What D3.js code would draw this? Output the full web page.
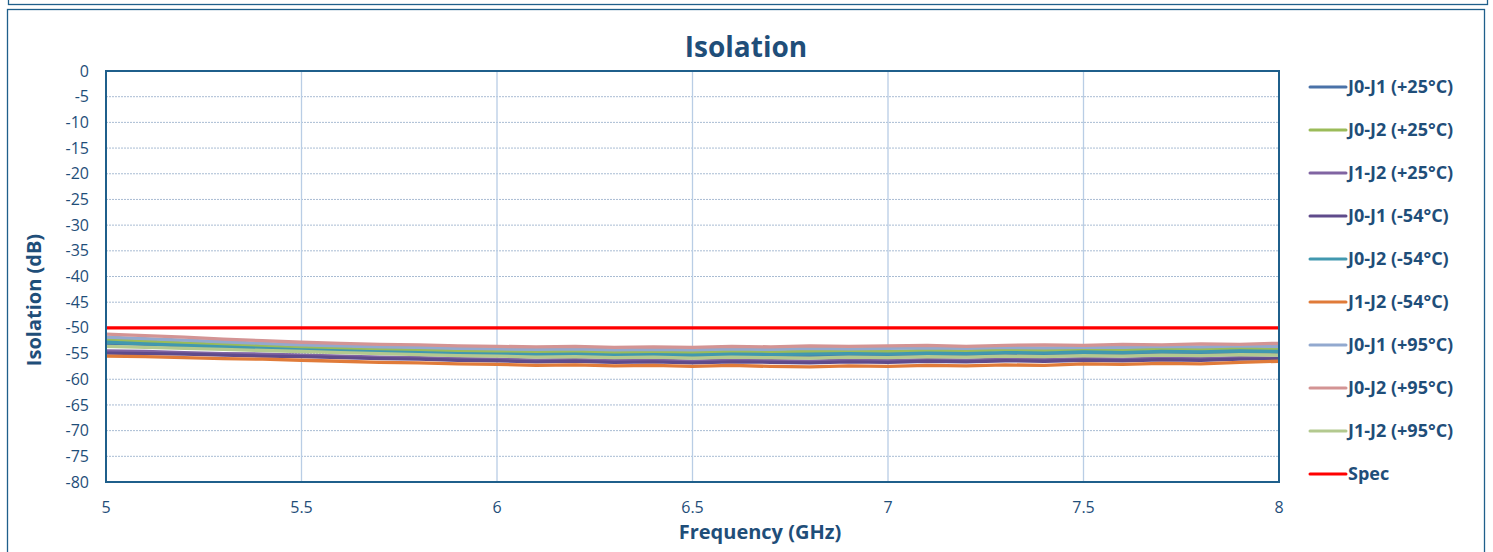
<!DOCTYPE html>
<html>
<head>
<meta charset="utf-8">
<script src="https://cdn.jsdelivr.net/npm/d3@7"></script>
<style>
  body { margin: 0; background: #fff; }
  svg { display: block; font-family: "Open Sans", "Lato", sans-serif; }
  .tick-label { fill: #1F4E79; font-size: 16px; }
  .axis-title { fill: #1F4E79; font-size: 20px; font-weight: bold; }
  .legend-label { fill: #1F4E79; font-size: 18px; font-weight: bold; }
</style>
</head>
<body>
<svg id="chart" width="1493" height="552"></svg>
<script>
// frequency grid (GHz)
const freqs = d3.range(0, 31).map((i) => +(5 + i * 0.1).toFixed(1));

const j0j1_p25 = [-53.0,-53.2,-53.5,-53.8,-54.0,-54.4,-54.5,-54.8,-54.9,-55.0,-55.1,-55.3,-55.2,-55.4,-55.3,-55.4,-55.2,-55.3,-55.4,-55.2,-55.3,-55.1,-55.2,-55.0,-55.1,-54.9,-55.0,-54.8,-54.9,-54.7,-54.8];
const j0j2_p25 = [-52.3,-52.6,-52.9,-53.2,-53.5,-53.8,-54.0,-54.2,-54.3,-54.5,-54.6,-54.7,-54.6,-54.8,-54.7,-54.8,-54.6,-54.7,-54.6,-54.5,-54.6,-54.4,-54.5,-54.3,-54.4,-54.2,-54.3,-54.1,-54.2,-54.0,-54.1];
const j1j2_p25 = [-54.5,-54.6,-54.8,-55.0,-55.1,-55.3,-55.5,-55.7,-55.8,-56.0,-56.1,-56.3,-56.2,-56.4,-56.3,-56.5,-56.3,-56.4,-56.5,-56.3,-56.4,-56.2,-56.3,-56.1,-56.2,-56.0,-56.1,-55.9,-56.0,-55.8,-55.9];
const j0j1_m54 = [-54.9,-55.0,-55.1,-55.3,-55.5,-55.6,-55.8,-56.0,-56.1,-56.3,-56.4,-56.6,-56.5,-56.7,-56.6,-56.8,-56.6,-56.7,-56.8,-56.6,-56.7,-56.5,-56.6,-56.4,-56.5,-56.3,-56.4,-56.2,-56.3,-56.1,-56.0];
const j0j2_m54 = [-52.8,-53.1,-53.4,-53.7,-54.0,-54.3,-54.5,-54.7,-54.8,-55.0,-55.1,-55.2,-55.1,-55.3,-55.2,-55.3,-55.1,-55.2,-55.1,-55.0,-55.1,-54.9,-55.0,-54.8,-54.9,-54.7,-54.8,-54.6,-54.7,-54.5,-54.6];
const j1j2_m54 = [-55.5,-55.6,-55.8,-56.0,-56.1,-56.3,-56.5,-56.7,-56.8,-57.0,-57.1,-57.3,-57.2,-57.4,-57.3,-57.5,-57.3,-57.5,-57.6,-57.4,-57.5,-57.3,-57.4,-57.2,-57.3,-57.0,-57.1,-56.9,-57.0,-56.7,-56.5];
const j0j1_p95 = [-51.8,-52.1,-52.4,-52.7,-53.0,-53.3,-53.5,-53.7,-53.8,-54.0,-54.1,-54.2,-54.1,-54.3,-54.2,-54.3,-54.1,-54.2,-54.0,-54.1,-54.0,-53.9,-54.0,-53.8,-53.9,-53.8,-53.8,-53.6,-53.7,-53.5,-53.6];
const j0j2_p95 = [-51.2,-51.5,-51.8,-52.2,-52.5,-52.8,-53.0,-53.2,-53.3,-53.5,-53.6,-53.7,-53.6,-53.8,-53.7,-53.8,-53.6,-53.7,-53.5,-53.6,-53.5,-53.4,-53.6,-53.4,-53.3,-53.4,-53.2,-53.3,-53.1,-53.2,-53.0];
const j1j2_p95 = [-53.6,-53.8,-54.0,-54.2,-54.4,-54.6,-54.8,-55.0,-55.2,-55.4,-55.5,-55.7,-55.6,-55.8,-55.7,-55.9,-55.7,-55.8,-55.9,-55.7,-55.8,-55.6,-55.7,-55.5,-55.6,-55.4,-55.5,-55.3,-55.4,-55.2,-55.3];
const specFreqs = [5, 8];
const specValues = [-50, -50];

const seriesNames = ['J0-J1 (+25°C)', 'J0-J2 (+25°C)', 'J1-J2 (+25°C)', 'J0-J1 (-54°C)', 'J0-J2 (-54°C)', 'J1-J2 (-54°C)', 'J0-J1 (+95°C)', 'J0-J2 (+95°C)', 'J1-J2 (+95°C)', 'Spec'];
const seriesColors = ['#4A72A8', '#9BBB59', '#8064A2', '#5F4B8B', '#4198AF', '#E07B39', '#92A9CF', '#D39494', '#B3C98F', '#FF0000'];
const xTicks = [5, 5.5, 6, 6.5, 7, 7.5, 8];
const yTicks = d3.range(-80, 1, 5);

const svg = d3.select('#chart');
const plot = { left: 106, right: 1279, top: 71, bottom: 482 };

const x = d3.scaleLinear().domain([5, 8]).range([plot.left, plot.right]);
const y = d3.scaleLinear().domain([-80, 0]).range([plot.bottom, plot.top]);

// frames
svg.append('rect').attr('x', 8.5).attr('y', -10).attr('width', 1479).attr('height', 14.5)
  .attr('fill', 'none').attr('stroke', '#1F5F8B').attr('stroke-width', 1.3);
svg.append('rect').attr('x', 7.5).attr('y', 9.5).attr('width', 1477).attr('height', 560)
  .attr('fill', '#fff').attr('stroke', '#1F5F8B').attr('stroke-width', 1.3);

// gridlines
svg.append('g').selectAll('line').data(yTicks.filter((d) => d > -80 && d < 0)).enter().append('line')
  .attr('x1', plot.left).attr('x2', plot.right)
  .attr('y1', (d) => y(d)).attr('y2', (d) => y(d))
  .attr('stroke', '#A9BCD3').attr('stroke-width', 1).attr('stroke-dasharray', '2,1');
svg.append('g').selectAll('line').data(xTicks.filter((d) => d > 5 && d < 8)).enter().append('line')
  .attr('x1', (d) => x(d)).attr('x2', (d) => x(d))
  .attr('y1', plot.top).attr('y2', plot.bottom)
  .attr('stroke', '#B9CDE5').attr('stroke-width', 1.3);

// tick labels
svg.append('g').selectAll('text').data(yTicks).enter().append('text')
  .attr('class', 'tick-label').attr('x', 89).attr('y', (d) => y(d)).attr('dy', '0.35em')
  .attr('text-anchor', 'end').text((d) => d);
svg.append('g').selectAll('text').data(xTicks).enter().append('text')
  .attr('class', 'tick-label').attr('x', (d) => x(d)).attr('y', 507).attr('dy', '0.35em')
  .attr('text-anchor', 'middle').text((d) => d);

// series
const allValues = [j0j1_p25, j0j2_p25, j1j2_p25, j0j1_m54, j0j2_m54, j1j2_m54, j0j1_p95, j0j2_p95, j1j2_p95];
const line = d3.line().x((d) => x(d[0])).y((d) => y(d[1]));

allValues.forEach((vals, i) => {
  svg.append('path')
    .datum(freqs.map((f, k) => [f, vals[k]]))
    .attr('d', line)
    .attr('fill', 'none')
    .attr('stroke', seriesColors[i])
    .attr('stroke-width', 3.3)
    .attr('stroke-linejoin', 'round');
});
svg.append('path')
  .datum(specFreqs.map((f, k) => [f, specValues[k]]))
  .attr('d', line)
  .attr('fill', 'none')
  .attr('stroke', seriesColors[9])
  .attr('stroke-width', 3.2);

// plot border
svg.append('rect').attr('x', plot.left).attr('y', plot.top)
  .attr('width', plot.right - plot.left).attr('height', plot.bottom - plot.top)
  .attr('fill', 'none').attr('stroke', '#1F5F8B').attr('stroke-width', 2);

// titles
svg.append('text').attr('x', 746).attr('y', 47).attr('dy', '0.35em').attr('text-anchor', 'middle')
  .attr('fill', '#1F4E79').style('font-size', '28px').style('font-weight', 'bold').text('Isolation');
svg.append('text').attr('class', 'axis-title').attr('x', 760).attr('y', 532).attr('dy', '0.35em')
  .attr('text-anchor', 'middle').text('Frequency (GHz)');
svg.append('text').attr('class', 'axis-title')
  .attr('transform', 'translate(34,300) rotate(-90)').attr('dy', '0.35em')
  .attr('text-anchor', 'middle').text('Isolation (dB)');

// legend
const legend = svg.append('g').selectAll('g').data(seriesNames).enter().append('g')
  .attr('transform', (d, i) => `translate(1310,${87 + i * 43})`);
legend.append('line').attr('x1', 0).attr('x2', 36).attr('y1', 0).attr('y2', 0)
  .attr('stroke', (d, i) => seriesColors[i]).attr('stroke-width', 3).attr('stroke-linecap', 'round');
legend.append('text').attr('class', 'legend-label').attr('x', 38).attr('y', 0).attr('dy', '0.35em')
  .text((d) => d);
</script>
</body>
</html>
